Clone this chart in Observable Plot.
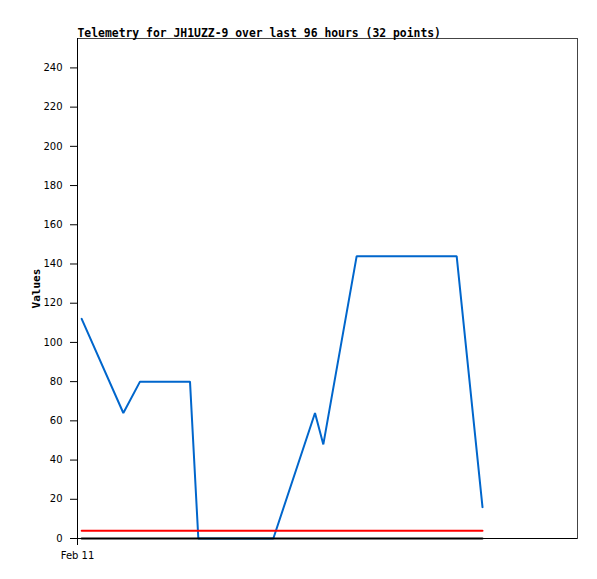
<!DOCTYPE html>
<html>
<head>
<meta charset="utf-8">
<script src="https://cdn.jsdelivr.net/npm/d3@7"></script>
<script src="https://cdn.jsdelivr.net/npm/@observablehq/plot@0.6"></script>
<style>
  html, body { margin: 0; padding: 0; background: #fff; }
</style>
</head>
<body>
<div id="chart"></div>
<script>
const titleText = "Telemetry for JH1UZZ-9 over last 96 hours (32 points)";
const yLabel = "Values";
const startTime = Date.UTC(2024, 1, 11, 0, 0);
const endTime = Date.UTC(2024, 1, 16, 0, 0);
// hour offsets of line vertices after Feb 11 00:00
const blueHours = [1, 11, 15, 27, 29, 47, 57, 59, 67, 91, 97.2];
const blueValues = [112, 64, 80, 80, 0, 0, 64, 48, 144, 144, 16];
const redHours = [1, 97.2];
const redValues = [4, 4];
const blackHours = [1, 97.2];
const blackValues = [0, 0];
const yTicks = [0, 20, 40, 60, 80, 100, 120, 140, 160, 180, 200, 220, 240];
const xTicks = [startTime];

const toDate = h => new Date(startTime + h * 3600000);
const blue = blueHours.map((h, i) => ({t: toDate(h), v: blueValues[i]}));
const red = redHours.map((h, i) => ({t: toDate(h), v: redValues[i]}));
const black = blackHours.map((h, i) => ({t: toDate(h), v: blackValues[i]}));

const chart = Plot.plot({
  width: 597,
  height: 579,
  marginLeft: 77,
  marginRight: 20,
  marginTop: 38,
  marginBottom: 41,
  style: {fontFamily: "'DejaVu Sans', sans-serif", fontSize: "10px", color: "#000", background: "#fff"},
  x: {type: "utc", domain: [new Date(startTime), new Date(endTime)]},
  y: {domain: [0, 255]},
  marks: [
    Plot.frame({stroke: "#444", strokeWidth: 1}),
    Plot.axisY({ticks: yTicks, tickSize: 7, tickPadding: 8, label: yLabel, labelAnchor: "center", labelArrow: "none", labelOffset: 45,
      fontFamily: "'DejaVu Sans', sans-serif", fontSize: 10}),
    Plot.axisX({ticks: xTicks.map(d => new Date(d)), tickSize: 7, tickPadding: 6, tickFormat: d3.utcFormat("%b %d"), label: null}),
    Plot.ruleX([new Date(startTime)], {stroke: "#000", strokeWidth: 1}),
    Plot.ruleY([0], {stroke: "#000", strokeWidth: 1}),
    Plot.lineY(blue, {x: "t", y: "v", stroke: "#0066cc", strokeWidth: 2, strokeLinejoin: "miter"}),
    Plot.lineY(red, {x: "t", y: "v", stroke: "#ff0000", strokeWidth: 2}),
    Plot.lineY(black, {x: "t", y: "v", stroke: "#000", strokeWidth: 2}),
    Plot.text([titleText], {frameAnchor: "top-left", lineAnchor: "bottom", dy: -2, textAnchor: "start", fontFamily: "'DejaVu Sans Mono', monospace",
      fontWeight: "bold", fontSize: 11.4, fill: "#000"})
  ]
});
document.getElementById("chart").appendChild(chart);
// style y-axis label as bold monospace
chart.querySelectorAll("g[aria-label='y-axis label'] text, g[aria-label='y-axis label']").forEach(el => {
  el.setAttribute("font-family", "'DejaVu Sans Mono', monospace");
  el.setAttribute("font-weight", "bold");
  el.setAttribute("font-size", "11");
});
</script>
</body>
</html>
